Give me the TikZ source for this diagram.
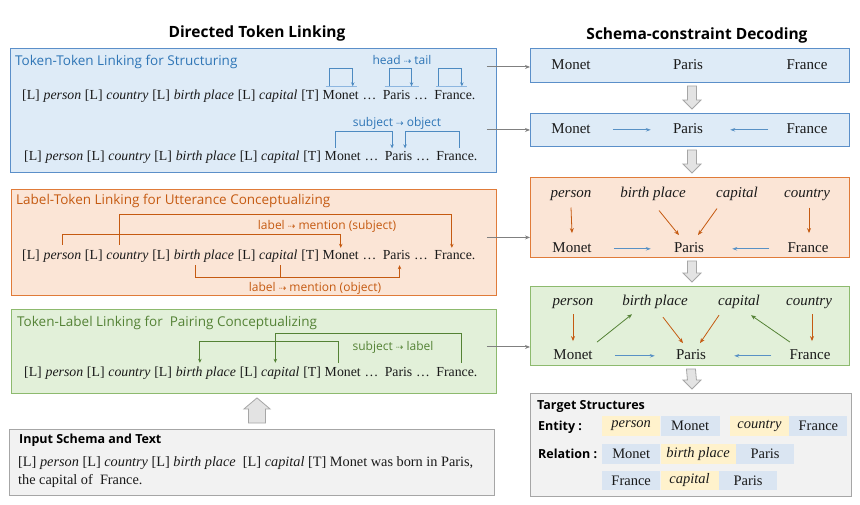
\documentclass[tikz,border=0pt]{standalone}
\usepackage{fontspec}
\setmainfont{Liberation Serif}
\setsansfont{Open Sans}
\newfontfamily\arrfont{DejaVu Sans}
\usetikzlibrary{arrows.meta,calc}
\definecolor{bfill}{HTML}{DEEBF7}
\definecolor{bline}{HTML}{5B8FC9}
\definecolor{btext}{HTML}{2E75B6}
\definecolor{bbasec}{HTML}{8DB6E0}
\definecolor{ofill}{HTML}{FBE5D6}
\definecolor{oline}{HTML}{E07B39}
\definecolor{otext}{HTML}{C55A11}
\definecolor{gfill}{HTML}{E2F0D9}
\definecolor{gline}{HTML}{8DBA6E}
\definecolor{gtext}{HTML}{548235}
\definecolor{infill}{HTML}{F2F2F2}
\definecolor{inline}{HTML}{A6A6A6}
\definecolor{chipy}{HTML}{FFF2CC}
\definecolor{chipb}{HTML}{DAE5F2}
\definecolor{txt}{HTML}{1A1A1A}
\definecolor{blkfill}{HTML}{E3E3E3}
\definecolor{blkline}{HTML}{A6A6A6}
\def\spc{3.4pt}
\def\spcc{6pt}
\newcommand\da{{\arrfont\fontsize{9}{9}\selectfont ⇢}}
\newcommand\tokrow[3]{%
  \node[tok] (#1l1) at (#2,#3) {[L]};
  \node[tok] (#1p) at ([xshift=\spc]#1l1.base east) {\textit{person}};
  \node[tok] (#1l2) at ([xshift=\spc]#1p.base east) {[L]};
  \node[tok] (#1c) at ([xshift=\spc]#1l2.base east) {\textit{country}};
  \node[tok] (#1l3) at ([xshift=\spc]#1c.base east) {[L]};
  \node[tok] (#1b) at ([xshift=\spc]#1l3.base east) {\textit{birth place}};
  \node[tok] (#1l4) at ([xshift=\spc]#1b.base east) {[L]};
  \node[tok] (#1k) at ([xshift=\spc]#1l4.base east) {\textit{capital}};
  \node[tok] (#1t) at ([xshift=\spc]#1k.base east) {[T]};
  \node[tok] (#1m) at ([xshift=\spc]#1t.base east) {Monet};
  \node[tok] (#1d1) at ([xshift=\spc]#1m.base east) {…};
  \node[tok] (#1pa) at ([xshift=\spcc]#1d1.base east) {Paris};
  \node[tok] (#1d2) at ([xshift=\spc]#1pa.base east) {…};
  \node[tok] (#1f) at ([xshift=\spcc]#1d2.base east) {France.};
}
\newcommand\blockdown[3]{% from, to, xshift
  \draw[blk] ([xshift=#3-4.5pt,yshift=-3pt]#1.south) -- ([xshift=#3+4.5pt,yshift=-3pt]#1.south)
    -- ([xshift=#3+4.5pt,yshift=13pt]#2.north) -- ([xshift=#3+9pt,yshift=13pt]#2.north)
    -- ([xshift=#3,yshift=4pt]#2.north) -- ([xshift=#3-9pt,yshift=13pt]#2.north)
    -- ([xshift=#3-4.5pt,yshift=13pt]#2.north) -- cycle;}
\begin{document}
\begin{tikzpicture}[x=1pt,y=-1pt,
  tok/.style={anchor=base west,inner sep=0pt,text height=9.5pt,text depth=3pt,text=txt,font=\fontsize{13.8}{16}\selectfont},
  dtxt/.style={anchor=base,inner sep=0pt,text height=10pt,text depth=3pt,text=txt,font=\fontsize{15}{17}\selectfont},
  lbox/.style={anchor=north west,inner sep=0pt,line width=0.9pt},
  bluebox/.style={lbox,draw=bline,fill=bfill},
  orangebox/.style={lbox,draw=oline,fill=ofill},
  greenbox/.style={lbox,draw=gline,fill=gfill},
  graybox/.style={lbox,draw=inline,fill=infill},
  btitle/.style={anchor=west,inner sep=0pt,font=\sffamily\fontsize{13.5}{15}\selectfont},
  heading/.style={inner sep=0pt,font=\sffamily\bfseries\fontsize{15.5}{18}\selectfont,text=black},
  lab/.style={inner sep=0pt,font=\sffamily\fontsize{12}{14}\selectfont},
  blink/.style={draw=btext!85,line width=0.9pt,-{Stealth[length=4pt,width=3.5pt]}},
  bbase/.style={draw=bbasec,line width=1.6pt},
  olink/.style={draw=otext,line width=0.8pt,-{Stealth[length=4pt,width=3.5pt]}},
  oplain/.style={draw=otext,line width=0.8pt},
  glink/.style={draw=gtext,line width=0.8pt,-{Stealth[length=4pt,width=3.5pt]}},
  garr/.style={draw=gray,line width=1pt,-{Stealth[length=5pt,width=4pt]}},
  barr/.style={draw=btext!80,line width=0.9pt,-{Stealth[length=5pt,width=3.5pt]}},
  oarr/.style={draw=otext,line width=0.8pt,-{Stealth[length=5pt,width=4pt]}},
  grarr/.style={draw=gtext,line width=0.8pt,-{Stealth[length=5pt,width=4pt]}},
  blk/.style={draw=blkline,fill=blkfill,line width=0.8pt,line join=miter},
  chip/.style={anchor=west,inner sep=0pt,minimum height=20pt,text=txt,font=\fontsize{14.5}{16}\selectfont},
  ychip/.style={chip,fill=chipy},
  bchip/.style={chip,fill=chipb},
  bold/.style={anchor=west,inner sep=0pt,font=\sffamily\bfseries\fontsize{12.5}{14}\selectfont,text=black}
]
\useasboundingbox (0,0) rectangle (860,504);
\fill[white] (0,0) rectangle (860,504);

% headings
\node[heading] (h1) at (257,33) {Directed Token Linking};
\node[heading] (h2) at (697,35) {Schema-constraint Decoding};

% ---------- left boxes ----------
\node[bluebox,minimum width=486pt,minimum height=124pt] (b1) at (10,48) {};
\node[btitle,text=btext] (b1t) at (15,62) {Token-Token Linking for Structuring};
\node[orangebox,minimum width=485pt,minimum height=106pt] (b2) at (11,189) {};
\node[btitle,text=otext] (b2t) at (16,201) {Label-Token Linking for Utterance Conceptualizing};
\node[greenbox,minimum width=485pt,minimum height=84pt] (b3) at (11,309) {};
\node[btitle,text=gtext] (b3t) at (17,323) {Token-Label Linking for\ \ Pairing Conceptualizing};
\node[graybox,minimum width=485pt,minimum height=66pt] (in) at (9,429) {};
\node[bold] (int) at (19,440) {Input Schema and Text};
\node[tok,font=\fontsize{14.3}{16}\selectfont] (in1) at (18,466) {[L] \textit{person} [L] \textit{country} [L] \textit{birth place}\ \ [L] \textit{capital} [T] Monet was born in Paris,};
\node[tok,font=\fontsize{14.3}{16}\selectfont] (in2) at (18,484) {the capital of\ \ France.};

% token rows
\tokrow{a}{22}{99}
\tokrow{b}{24}{160}
\tokrow{c}{22}{259}
\tokrow{e}{24}{376}

% row a: head -> tail loops
\draw[bbase] ([xshift=-15pt,yshift=3pt]am.north) -- ([xshift=16pt,yshift=3pt]am.north);
\draw[blink] ([xshift=-11pt,yshift=3pt]am.north) |- ([xshift=12pt,yshift=21pt]am.north) -- ([xshift=12pt,yshift=3pt]am.north);
\draw[bbase] ([xshift=-12pt,yshift=3pt]apa.north) -- ([xshift=22pt,yshift=3pt]apa.north);
\draw[blink] ([xshift=-7pt,yshift=3pt]apa.north) |- ([xshift=15pt,yshift=21pt]apa.north) -- ([xshift=15pt,yshift=3pt]apa.north);
\draw[bbase] ([xshift=-19pt,yshift=3pt]af.north) -- ([xshift=12pt,yshift=3pt]af.north);
\draw[blink] ([xshift=-16pt,yshift=3pt]af.north) |- ([xshift=7pt,yshift=21pt]af.north) -- ([xshift=7pt,yshift=3pt]af.north);
\node[lab,text=btext] (la) at (402,60) {head \da\ tail};

% row b: subject -> object
\draw[blink] ([xshift=-7pt,yshift=2.5pt]bm.north) |- ([xshift=-6.5pt,yshift=18.5pt]bpa.north) -- ([xshift=-6.5pt,yshift=2pt]bpa.north);
\draw[blink] ([xshift=3pt,yshift=2.5pt]bf.north) |- ([xshift=6.5pt,yshift=18.5pt]bpa.north) -- ([xshift=6.5pt,yshift=2pt]bpa.north);
\node[lab,text=btext] (lb) at (397,123) {subject \da\ object};

% row c: label -> mention
\draw[olink] ([yshift=4.5pt]cp.north) -- ++(0,-10) -| ([yshift=1.5pt]cm.north);
\draw[olink] ([xshift=-8pt,yshift=4.5pt]cc.north) -- ++(0,-30) -| ([xshift=-3pt,yshift=1.5pt]cf.north);
\node[lab,text=otext] (lc1) at (327,226) {label \da\ mention (subject)};
\draw[olink] ([xshift=-8pt,yshift=-3pt]cb.south) -- ++(0,12) -| ([xshift=3pt,yshift=-3pt]cpa.south);
\draw[oplain] ([xshift=2pt,yshift=-3pt]ck.south) -- ++(0,12);
\node[lab,text=otext] (lc2) at (315,288) {label \da\ mention (object)};

% row e: subject -> label
\draw[glink] ([xshift=-4pt,yshift=3.5pt]em.north) -- ++(0,-21) -| ([xshift=-6pt,yshift=3.5pt]eb.north);
\draw[glink] ([xshift=5pt,yshift=3.5pt]ef.north) -- ++(0,-29) -| ([xshift=-5pt,yshift=3.5pt]ek.north);
\node[lab,text=gtext] (le) at (393,347) {subject \da\ label};

% up block arrow
\draw[blk] ([xshift=-8.5pt,yshift=6pt]in.north -| 257,0) -- ([xshift=8.5pt,yshift=6pt]in.north -| 257,0)
  -- ([xshift=8.5pt,yshift=-15pt]b3.south -| 257,0) -- ([xshift=13pt,yshift=-15pt]b3.south -| 257,0)
  -- ([yshift=-4pt]b3.south -| 257,0) -- ([xshift=-13pt,yshift=-15pt]b3.south -| 257,0)
  -- ([xshift=-8.5pt,yshift=-15pt]b3.south -| 257,0) -- cycle;

% ---------- right boxes ----------
\node[bluebox,minimum width=319pt,minimum height=34pt] (d1) at (530,48) {};
\node[bluebox,minimum width=319pt,minimum height=33pt] (d2) at (530,113) {};
\node[orangebox,minimum width=319pt,minimum height=80pt] (d3) at (530,177) {};
\node[greenbox,minimum width=319pt,minimum height=79pt] (d4) at (530,286) {};
\node[graybox,minimum width=321pt,minimum height=103pt] (tg) at (530,393) {};

% gray arrows left -> right
\coordinate (s1) at ([xshift=-10pt]b1.east);
\coordinate (s2) at ([xshift=-10pt]b2.east);
\coordinate (s3) at ([xshift=-10pt]b3.east);
\coordinate (g1) at ([yshift=-1.5pt]d1.west);
\coordinate (g2) at (d2.west);
\coordinate (g3) at ([yshift=-20pt]d3.west);
\coordinate (g4) at ([yshift=-21pt]d4.west);
\draw[garr] (s1 |- g1) -- (g1);
\draw[garr] (s1 |- g2) -- (g2);
\draw[garr] (s2 |- g3) -- (g3);
\draw[garr] (s3 |- g4) -- (g4);

% d1
\node[dtxt] (m1) at (571,69) {Monet};
\node[dtxt] (p1) at (688,69) {Paris};
\node[dtxt] (f1) at (807,69) {France};
% d2
\node[dtxt] (m2) at (571,133.3) {Monet};
\node[dtxt] (p2) at (688,133.3) {Paris};
\node[dtxt] (f2) at (807,133.3) {France};
\draw[barr] ([xshift=22pt]m2.east) -- ([xshift=-22pt]p2.west);
\draw[barr] ([xshift=-18pt]f2.west) -- ([xshift=27pt]p2.east);
% d3
\node[dtxt] (pe3) at (571,197.3) {\textit{person}};
\node[dtxt] (bp3) at (653,197.3) {\textit{birth place}};
\node[dtxt] (ca3) at (737,197.3) {\textit{capital}};
\node[dtxt] (co3) at (807,197.3) {\textit{country}};
\node[dtxt] (m3) at (572,252.3) {Monet};
\node[dtxt] (p3) at (689,252.3) {Paris};
\node[dtxt] (f3) at (808,252.3) {France};
\draw[oarr] ([yshift=-7pt]pe3.south) -- ([yshift=9pt]m3.north);
\draw[oarr] ([xshift=6pt,yshift=-10pt]bp3.south) -- ([xshift=-10pt,yshift=7pt]p3.north);
\draw[oarr] ([xshift=-20pt,yshift=-8pt]ca3.south) -- ([xshift=9pt,yshift=7pt]p3.north);
\draw[oarr] ([xshift=2pt,yshift=-7pt]co3.south) -- ([xshift=1pt,yshift=9pt]f3.north);
\draw[barr] ([xshift=22pt]m3.east) -- ([xshift=-23pt]p3.west);
\draw[barr] ([xshift=-18pt]f3.west) -- ([xshift=28pt]p3.east);
% d4
\node[dtxt] (pe4) at (573,305) {\textit{person}};
\node[dtxt] (bp4) at (655,305) {\textit{birth place}};
\node[dtxt] (ca4) at (739,305) {\textit{capital}};
\node[dtxt] (co4) at (809,305) {\textit{country}};
\node[dtxt] (m4) at (573,359.3) {Monet};
\node[dtxt] (p4) at (691,359.3) {Paris};
\node[dtxt] (f4) at (810,359.3) {France};
\draw[oarr] ([yshift=-6pt]pe4.south) -- ([yshift=8pt]m4.north);
\draw[grarr] ([xshift=24pt,yshift=7pt]m4.north) -- ([xshift=-23pt,yshift=-6pt]bp4.south);
\draw[oarr] ([xshift=8pt,yshift=-9pt]bp4.south) -- ([xshift=-8pt,yshift=6pt]p4.north);
\draw[oarr] ([xshift=-20pt,yshift=-7pt]ca4.south) -- ([xshift=9pt,yshift=6pt]p4.north);
\draw[grarr] ([xshift=-20pt,yshift=7pt]f4.north) -- ([xshift=12pt,yshift=-7pt]ca4.south);
\draw[oarr] ([xshift=3pt,yshift=-6pt]co4.south) -- ([xshift=2pt,yshift=8pt]f4.north);
\draw[barr] ([xshift=22pt]m4.east) -- ([xshift=-21pt]p4.west);
\draw[barr] ([xshift=-18pt]f4.west) -- ([xshift=28pt]p4.east);

% block arrows between decoding boxes
\blockdown{d1}{d2}{2pt}
\blockdown{d2}{d3}{2pt}
\blockdown{d3}{d4}{2pt}
\blockdown{d4}{tg}{1pt}

% target structures
\node[bold] (tt) at (537,406) {Target Structures};
\node[bold] (te) at (538,427) {Entity :};
\node[bold] (tr) at (538,454) {Relation :};
\node[ychip,minimum width=58pt] (t11) at (602,426) {\textit{person}};
\node[bchip,minimum width=59pt] (t12) at (t11.east) {Monet};
\node[ychip,minimum width=59pt] (t13) at ([xshift=10pt]t12.east) {\textit{country}};
\node[bchip,minimum width=58pt] (t14) at (t13.east) {France};
\node[bchip,minimum width=58pt] (t21) at (602,454) {Monet};
\node[ychip,minimum width=75pt] (t22) at (t21.east) {\textit{birth place}};
\node[bchip,minimum width=58pt] (t23) at (t22.east) {Paris};
\node[bchip,minimum width=58pt,minimum height=19pt] (t31) at (602,480.5) {France};
\node[ychip,minimum width=58pt,minimum height=19pt] (t32) at (t31.east) {\textit{capital}};
\node[bchip,minimum width=58pt,minimum height=19pt] (t33) at (t32.east) {Paris};
\end{tikzpicture}
\end{document}
